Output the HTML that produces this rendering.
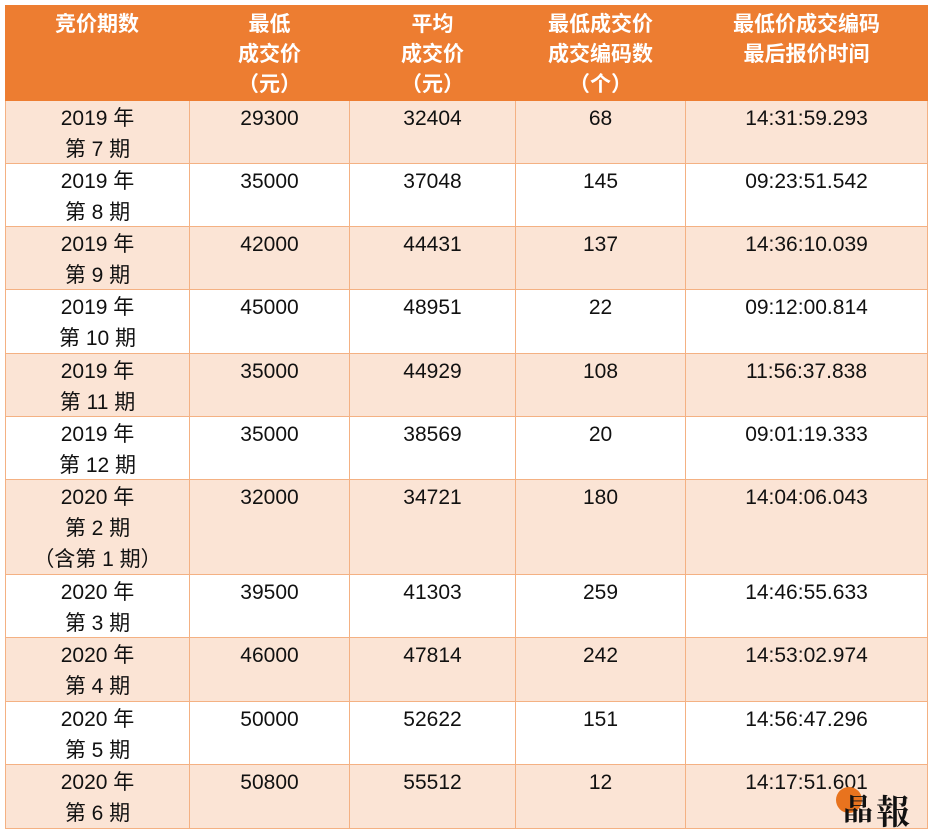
<!DOCTYPE html>
<html><head><meta charset="utf-8"><style>
body{margin:0;width:935px;height:838px;background:#fff;position:relative;overflow:hidden;font-family:"Liberation Sans","Noto Sans CJK SC",sans-serif;}
.c{position:absolute;box-sizing:border-box;text-align:center;font-size:21px;line-height:31px;color:#111;padding-top:2px;border-right:1px solid #F4B183;border-bottom:1px solid #F4B183;}
.h{color:#fff;font-weight:bold;background:#ED7D31;border-color:#ED7D31;line-height:30px;padding-top:5px;}
</style></head><body>
<div id="t"></div>
<script>
var xs=[5,190,350,516,686,928];
var hd=["竞价期数","最低<br>成交价<br>（元）","平均<br>成交价<br>（元）","最低成交价<br>成交编码数<br>（个）","最低价成交编码<br>最后报价时间"];
var rows=[
["2019 年<br>第 7 期","29300","32404","68","14:31:59.293"],
["2019 年<br>第 8 期","35000","37048","145","09:23:51.542"],
["2019 年<br>第 9 期","42000","44431","137","14:36:10.039"],
["2019 年<br>第 10 期","45000","48951","22","09:12:00.814"],
["2019 年<br>第 11 期","35000","44929","108","11:56:37.838"],
["2019 年<br>第 12 期","35000","38569","20","09:01:19.333"],
["2020 年<br>第 2 期<br>（含第 1 期）","32000","34721","180","14:04:06.043"],
["2020 年<br>第 3 期","39500","41303","259","14:46:55.633"],
["2020 年<br>第 4 期","46000","47814","242","14:53:02.974"],
["2020 年<br>第 5 期","50000","52622","151","14:56:47.296"],
["2020 年<br>第 6 期","50800","55512","12","14:17:51.601"]];
var ys=[101,164,227,290,354,417,480,575,638,702,765,829];
var h="";
for(var i=0;i<5;i++)h+='<div class="c h" style="left:'+xs[i]+'px;top:5px;width:'+(xs[i+1]-xs[i])+'px;height:96px">'+hd[i]+'</div>';
for(var r=0;r<rows.length;r++){var bg=r%2==0?"#FBE4D5":"#fff";
for(var i=0;i<5;i++)h+='<div class="c" style="left:'+xs[i]+'px;top:'+ys[r]+'px;width:'+(xs[i+1]-xs[i])+'px;height:'+(ys[r+1]-ys[r])+'px;background:'+bg+';'+(i==0?'border-left:1px solid #F4B183;':'')+'">'+rows[r][i]+'</div>';}
document.getElementById("t").innerHTML=h;
</script>
<div style="position:absolute;left:836px;top:787px;width:26px;height:26px;border-radius:50%;background:#E8731E;"></div>
<div style="position:absolute;left:843px;top:790px;font:bold 30px/34px 'Noto Serif CJK SC',serif;color:#111;">晶</div>
<div style="position:absolute;left:876px;top:791px;font:bold 34px/38px 'Noto Serif CJK SC',serif;color:#111;">報</div>
</body></html>
